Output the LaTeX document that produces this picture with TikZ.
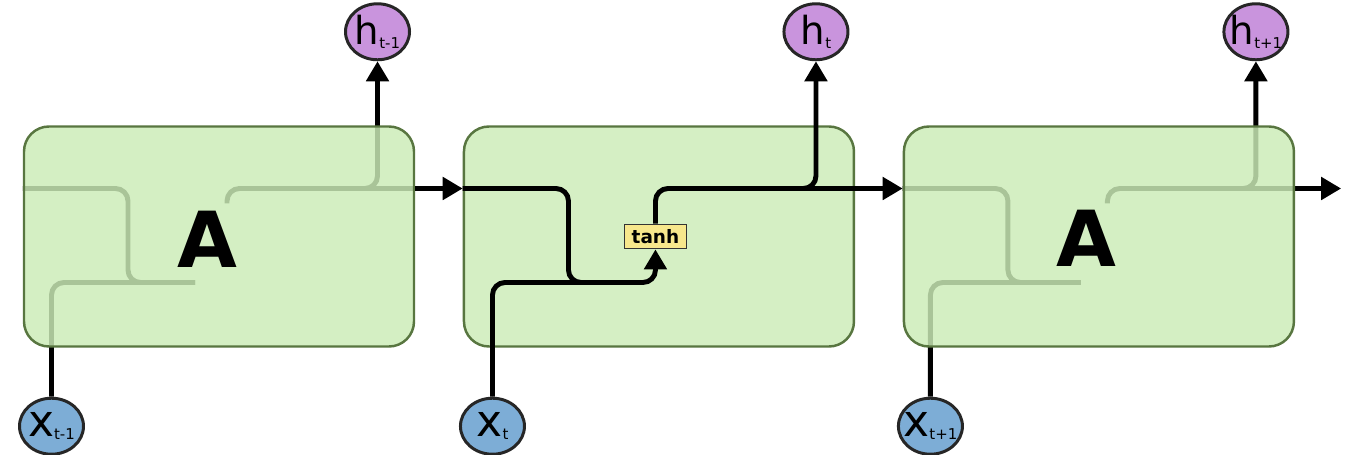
\documentclass[tikz,border=0pt]{standalone}
\usepackage{fontspec}
\setmainfont{DejaVu Sans}
\usepackage{xcolor}
\usepackage{tikz}
\usetikzlibrary{arrows.meta, positioning, shapes.geometric, calc}

\definecolor{cellfill}{RGB}{213,239,196}
\definecolor{cellfade}{RGB}{204,236,184}
\definecolor{celledge}{RGB}{88,118,64}
\definecolor{hfill}{RGB}{201,148,221}
\definecolor{xfill}{RGB}{125,173,214}
\definecolor{gatefill}{RGB}{247,231,140}

\pgfdeclarelayer{back}
\pgfsetlayers{back,main}

\newcommand{\hname}[1]{\makebox[0.85cm]{{\fontsize{22}{22}\selectfont h}\raisebox{-2pt}{\fontsize{8.5}{9}\selectfont #1}}}
\newcommand{\xname}[1]{\makebox[0.85cm]{{\fontsize{25}{25}\selectfont x}\raisebox{-2pt}{\fontsize{8.5}{9}\selectfont #1}}}

\begin{document}
\begin{tikzpicture}[
        node distance=0.95cm,
        cell/.style={rectangle, rounded corners=0.5cm, draw=celledge, line width=1.4pt, fill=cellfill, minimum width=7.8cm, minimum height=4.4cm, inner sep=0pt},
        faded/.style={cell, fill=cellfade, fill opacity=0.83},
        hstate/.style={ellipse, draw=black!85, line width=1.7pt, fill=hfill, minimum width=1.28cm, minimum height=1.12cm, inner sep=0pt},
        xstate/.style={hstate, fill=xfill},
        gate/.style={rectangle, draw=black!80, line width=1pt, fill=gatefill, minimum width=1.24cm, minimum height=0.48cm, inner sep=0pt, font=\fontsize{10.5}{12}\selectfont\bfseries},
        letter/.style={font=\fontsize{44}{44}\selectfont\bfseries, inner sep=0pt},
        wire/.style={line width=2.8pt, rounded corners=0.25cm},
        arrow/.style={wire, -{Triangle[length=0.4cm, width=0.44cm]}}
    ]
        \useasboundingbox (0,0) rectangle (27.02,-9.10);

        \node[faded] (cellA) at (4.38,-4.73) {};
        \node[cell, right=of cellA] (cellB) {};
        \node[faded, right=of cellB] (cellC) {};

        \node[letter] (letA) at ($(cellA.center)+(-0.23,-0.05)$) {A};
        \node[letter] (letC) at ($(cellC.center)+(-0.25,-0.03)$) {A};
        \node[gate] (tanh) at ($(cellB.center)+(-0.07,0)$) {tanh};

        \node[hstate, above=1.28cm of cellA.north, xshift=3.17cm] (hA) {\hname{t-1}};
        \node[hstate, above=1.28cm of cellB.north, xshift=3.14cm] (hB) {\hname{t}};
        \node[hstate, above=1.28cm of cellC.north, xshift=3.14cm] (hC) {\hname{t+1}};
        \node[xstate, below=0.98cm of cellA.south, xshift=-3.35cm] (xA) {\xname{t-1}};
        \node[xstate, below=0.98cm of cellB.south, xshift=-3.33cm] (xB) {\xname{t}};
        \node[xstate, below=0.98cm of cellC.south, xshift=-3.37cm] (xC) {\xname{t+1}};

        \coordinate (inA) at ($(cellA.west)+(0,0.96)$);
        \coordinate (inB) at ($(cellB.west)+(0,0.96)$);
        \coordinate (inC) at ($(cellC.west)+(0,0.96)$);
        \coordinate (outC) at ($(cellC.east |- inC)+(0.92,0)$);

        % wires of the outer cells, seen through the box
        \begin{pgfonlayer}{back}
            \fill[white] (0,0) rectangle (27.02,-9.10);
            \draw[wire] (inA) -| ($(cellA.center)+(-1.82,-0.92)$) -- ($(cellA.center)+(-0.48,-0.92)$);
            \draw[wire] (xA.north) |- ($(cellA.center)+(-0.48,-0.92)$);
            \draw[wire] ($(cellA.center)+(0.16,0.66)$) |- (cellA.east |- inA);
            \draw[arrow] ($(cellA.center)+(2.6,0.96)$) -| (hA.south);

            \draw[wire] (inC) -| ($(cellC.center)+(-1.82,-0.92)$) -- ($(cellC.center)+(-0.36,-0.92)$);
            \draw[wire] (xC.north) |- ($(cellC.center)+(-0.36,-0.92)$);
            \draw[wire] ($(cellC.center)+(0.17,0.66)$) |- (cellC.east |- inC);
            \draw[arrow] ($(cellC.center)+(2.6,0.96)$) -| (hC.south);
            \draw[arrow] (cellC.east |- inC) -- (outC);
        \end{pgfonlayer}

        % middle cell
        \draw[arrow] (cellA.east |- inA) -- (inB);
        \draw[arrow] (inB) -| ($(cellB.center)+(-1.81,-0.92)$) -| (tanh.south);
        \draw[wire] (xB.north) |- ($(cellB.center)+(-1.0,-0.92)$);
        \draw[arrow] (tanh.north) |- (inC);
        \draw[arrow] ($(cellB.center)+(2.6,0.96)$) -| (hB.south);
    \end{tikzpicture}
\end{document}
